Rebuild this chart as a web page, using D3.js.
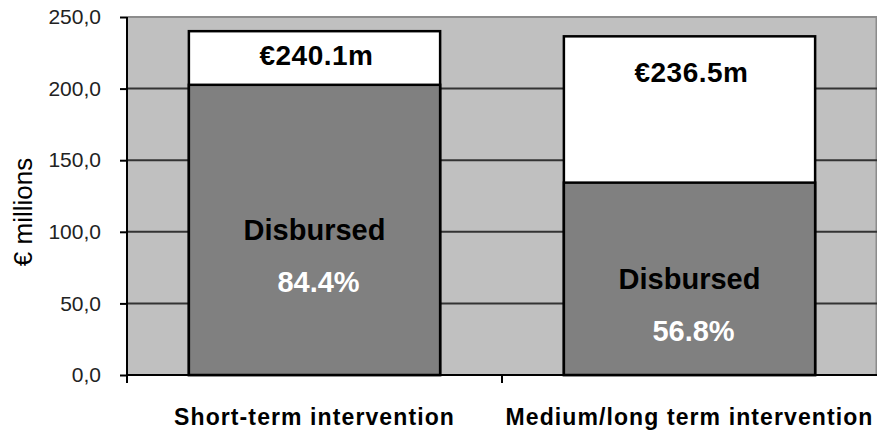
<!DOCTYPE html>
<html>
<head>
<meta charset="utf-8">
<script src="https://cdn.jsdelivr.net/npm/d3@7"></script>
<style>
  body { margin: 0; background: #fff; }
  svg { display: block; font-family: "Liberation Sans", Arial, sans-serif; }
</style>
</head>
<body>
<svg id="svg" width="877" height="434"></svg>
<script>
// données
const categories = ["Short-term intervention", "Medium/long term intervention"];
const totals = [240.1, 236.5];          // € millions
const disbursedPct = [84.4, 56.8];      // %
const totalLabels = ["€240.1m", "€236.5m"];
const yTicks = [0, 50, 100, 150, 200, 250];

const plotLeft = 127, plotRight = 877, plotTop = 17, plotBottom = 375;

const svg = d3.select("#svg");

const x = d3.scaleBand()
  .domain(categories)
  .range([plotLeft, plotRight])
  .paddingInner(0.33)
  .paddingOuter(0.165);

const y = d3.scaleLinear().domain([0, 250]).range([plotBottom, plotTop]);

// fond de la zone de tracé
svg.append("rect")
  .attr("x", plotLeft).attr("y", plotTop)
  .attr("width", plotRight - plotLeft).attr("height", plotBottom - plotTop)
  .attr("fill", "#c0c0c0");

// bord haut / droit
svg.append("path")
  .attr("d", `M${plotLeft},${plotTop}H${plotRight - 0.5}V${plotBottom}`)
  .attr("fill", "none").attr("stroke", "#8c8c8c").attr("stroke-width", 2);

// grille
svg.append("g").selectAll("line")
  .data(yTicks.filter(d => d > 0 && d < 250))
  .enter().append("line")
  .attr("x1", plotLeft).attr("x2", plotRight)
  .attr("y1", d => y(d)).attr("y2", d => y(d))
  .attr("stroke", "#333").attr("stroke-width", 2);

// barres
const bars = svg.append("g").selectAll("g")
  .data(categories.map((c, i) => ({ cat: c, total: totals[i], pct: disbursedPct[i], label: totalLabels[i] })))
  .enter().append("g");

bars.append("rect")
  .attr("x", d => x(d.cat))
  .attr("y", d => y(d.total))
  .attr("width", x.bandwidth())
  .attr("height", d => y(0) - y(d.total))
  .attr("fill", "#fff")
  .attr("stroke", "#000").attr("stroke-width", 2.5);

bars.append("rect")
  .attr("x", d => x(d.cat))
  .attr("y", d => y(d.total * d.pct / 100))
  .attr("width", x.bandwidth())
  .attr("height", d => y(0) - y(d.total * d.pct / 100))
  .attr("fill", "#808080")
  .attr("stroke", "#000").attr("stroke-width", 2.5);

// étiquettes du total (dans la partie blanche)
bars.append("text")
  .attr("x", d => x(d.cat) + x.bandwidth() / 2 + 2)
  .attr("y", d => {
    const t = y(d.total), b = y(d.total * d.pct / 100);
    return Math.min((t + b) / 2 + 7, t + 46);
  })
  .attr("text-anchor", "middle")
  .style("font-size", "28px").style("font-weight", "bold")
  .style("letter-spacing", "0.5px")
  .text(d => d.label);

// étiquettes "Disbursed" + pourcentage
bars.append("text")
  .attr("x", d => x(d.cat) + x.bandwidth() / 2)
  .attr("y", d => (y(d.total * d.pct / 100) + y(0)) / 2 + 10)
  .attr("text-anchor", "middle")
  .style("font-size", "29px").style("font-weight", "bold")
  .text("Disbursed");

bars.append("text")
  .attr("x", d => x(d.cat) + x.bandwidth() / 2 + 4)
  .attr("y", d => (y(d.total * d.pct / 100) + y(0)) / 2 + 62)
  .attr("text-anchor", "middle")
  .attr("fill", "#fff")
  .style("font-size", "29px").style("font-weight", "bold")
  .text(d => d.pct.toFixed(1) + "%");

// axe Y
const yAxis = svg.append("g")
  .attr("transform", `translate(${plotLeft},0)`)
  .call(d3.axisLeft(y).tickValues(yTicks).tickSize(7).tickPadding(19)
    .tickFormat(d => d.toFixed(1).replace(".", ",")));
yAxis.select(".domain").remove();
yAxis.selectAll(".tick line").attr("stroke", "#000").attr("stroke-width", 2);
yAxis.selectAll("text")
  .attr("fill", "#222")
  .style("font-size", "21px")
  .style("font-family", "'Liberation Sans', Arial, sans-serif");
yAxis.append("line")
  .attr("x1", 0).attr("x2", 0).attr("y1", plotTop).attr("y2", plotBottom + 8)
  .attr("stroke", "#000").attr("stroke-width", 2);

// axe X
const xAxis = svg.append("g")
  .attr("transform", `translate(0,${plotBottom})`);
xAxis.append("line")
  .attr("x1", plotLeft).attr("x2", plotRight).attr("y1", 0).attr("y2", 0)
  .attr("stroke", "#000").attr("stroke-width", 2);
const midX = (x(categories[0]) + x.bandwidth() + x(categories[1])) / 2;
xAxis.append("line")
  .attr("x1", midX).attr("x2", midX)
  .attr("y1", 0).attr("y2", 8)
  .attr("stroke", "#000").attr("stroke-width", 2);
xAxis.selectAll("text")
  .data(categories)
  .enter().append("text")
  .attr("x", d => x(d) + x.bandwidth() / 2)
  .attr("y", 50)
  .attr("text-anchor", "middle")
  .style("font-size", "23px").style("font-weight", "bold")
  .style("letter-spacing", "1.1px")
  .text(d => d);

// titre de l'axe Y
svg.append("text")
  .attr("transform", `translate(32,212) rotate(-90)`)
  .attr("text-anchor", "middle")
  .style("font-size", "26px")
  .text("€ millions");
</script>
</body>
</html>
